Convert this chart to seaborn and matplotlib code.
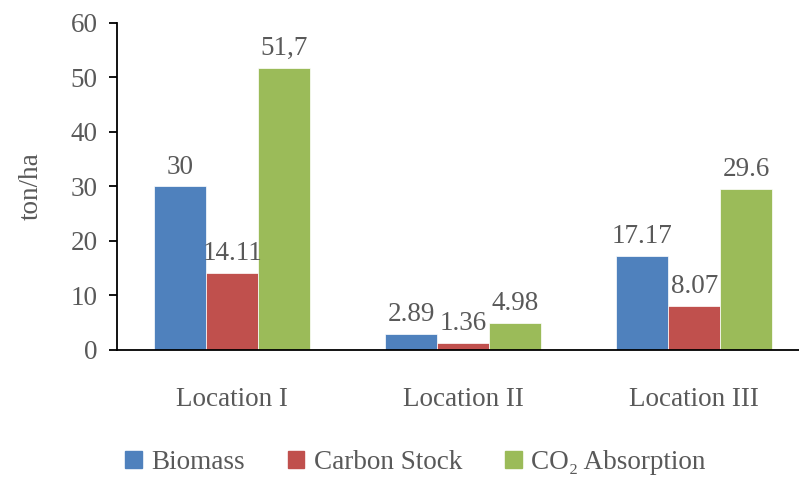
import matplotlib
matplotlib.use("Agg")
import matplotlib.pyplot as plt
import seaborn as sns
import pandas as pd

categories = ["Location I", "Location II", "Location III"]
series = ["Biomass", "Carbon Stock", "CO₂ Absorption"]
biomass = [30, 2.89, 17.17]
carbon = [14.11, 1.36, 8.07]
co2 = [51.7, 4.98, 29.6]
labels_biomass = ["30", "2.89", "17.17"]
labels_carbon = ["14.11", "1.36", "8.07"]
labels_co2 = ["51,7", "4.98", "29.6"]
colors = ["#4F81BD", "#C0504D", "#9BBB59"]

rows = []
for s, vals in zip(series, [biomass, carbon, co2]):
    for c, v in zip(categories, vals):
        rows.append({"Location": c, "Series": s, "Value": v})
df = pd.DataFrame(rows)

sns.set_theme(style="white")
plt.rcParams["font.family"] = ["Liberation Serif", "DejaVu Serif"]
text_color = "#595959"
fs = 19.5

fig = plt.figure(figsize=(7.99, 4.78), dpi=100)
ax = fig.add_axes([0.1464, 0.2678, 0.867, 0.6841])
sns.barplot(data=df, x="Location", y="Value", hue="Series", palette=colors,
            width=0.675, saturation=1, ax=ax, legend=False, errorbar=None,
            edgecolor="white", linewidth=0.5)

for cont, labs in zip(ax.containers, [labels_biomass, labels_carbon, labels_co2]):
    ax.bar_label(cont, labels=labs, padding=5, fontsize=fs, color=text_color)

ax.set_ylim(0, 60)
ax.set_yticks(range(0, 61, 10))
ax.set_xlim(-0.5, 2.5)
ax.set_xlabel("")
ax.set_ylabel("ton/ha", fontsize=fs, color=text_color, labelpad=19)
ax.tick_params(axis="y", labelsize=fs, labelcolor=text_color, left=True,
               length=6, width=1.3, color="black", direction="out", pad=8)
ax.tick_params(axis="x", labelsize=fs, labelcolor=text_color, bottom=False, pad=21)
for side in ["top", "right"]:
    ax.spines[side].set_visible(False)
for side in ["left", "bottom"]:
    ax.spines[side].set_visible(True)
    ax.spines[side].set_color("black")
    ax.spines[side].set_linewidth(1.3)

handles = [plt.Rectangle((0, 0), 1, 1, color=c) for c in colors]
fig.legend(handles, series, loc="center", bbox_to_anchor=(0.52, 0.033), ncol=3,
           frameon=False, fontsize=fs, handlelength=0.6, handleheight=0.6,
           handletextpad=0.35, columnspacing=1.6, labelcolor=text_color)

fig.savefig("out.png", dpi=100)
